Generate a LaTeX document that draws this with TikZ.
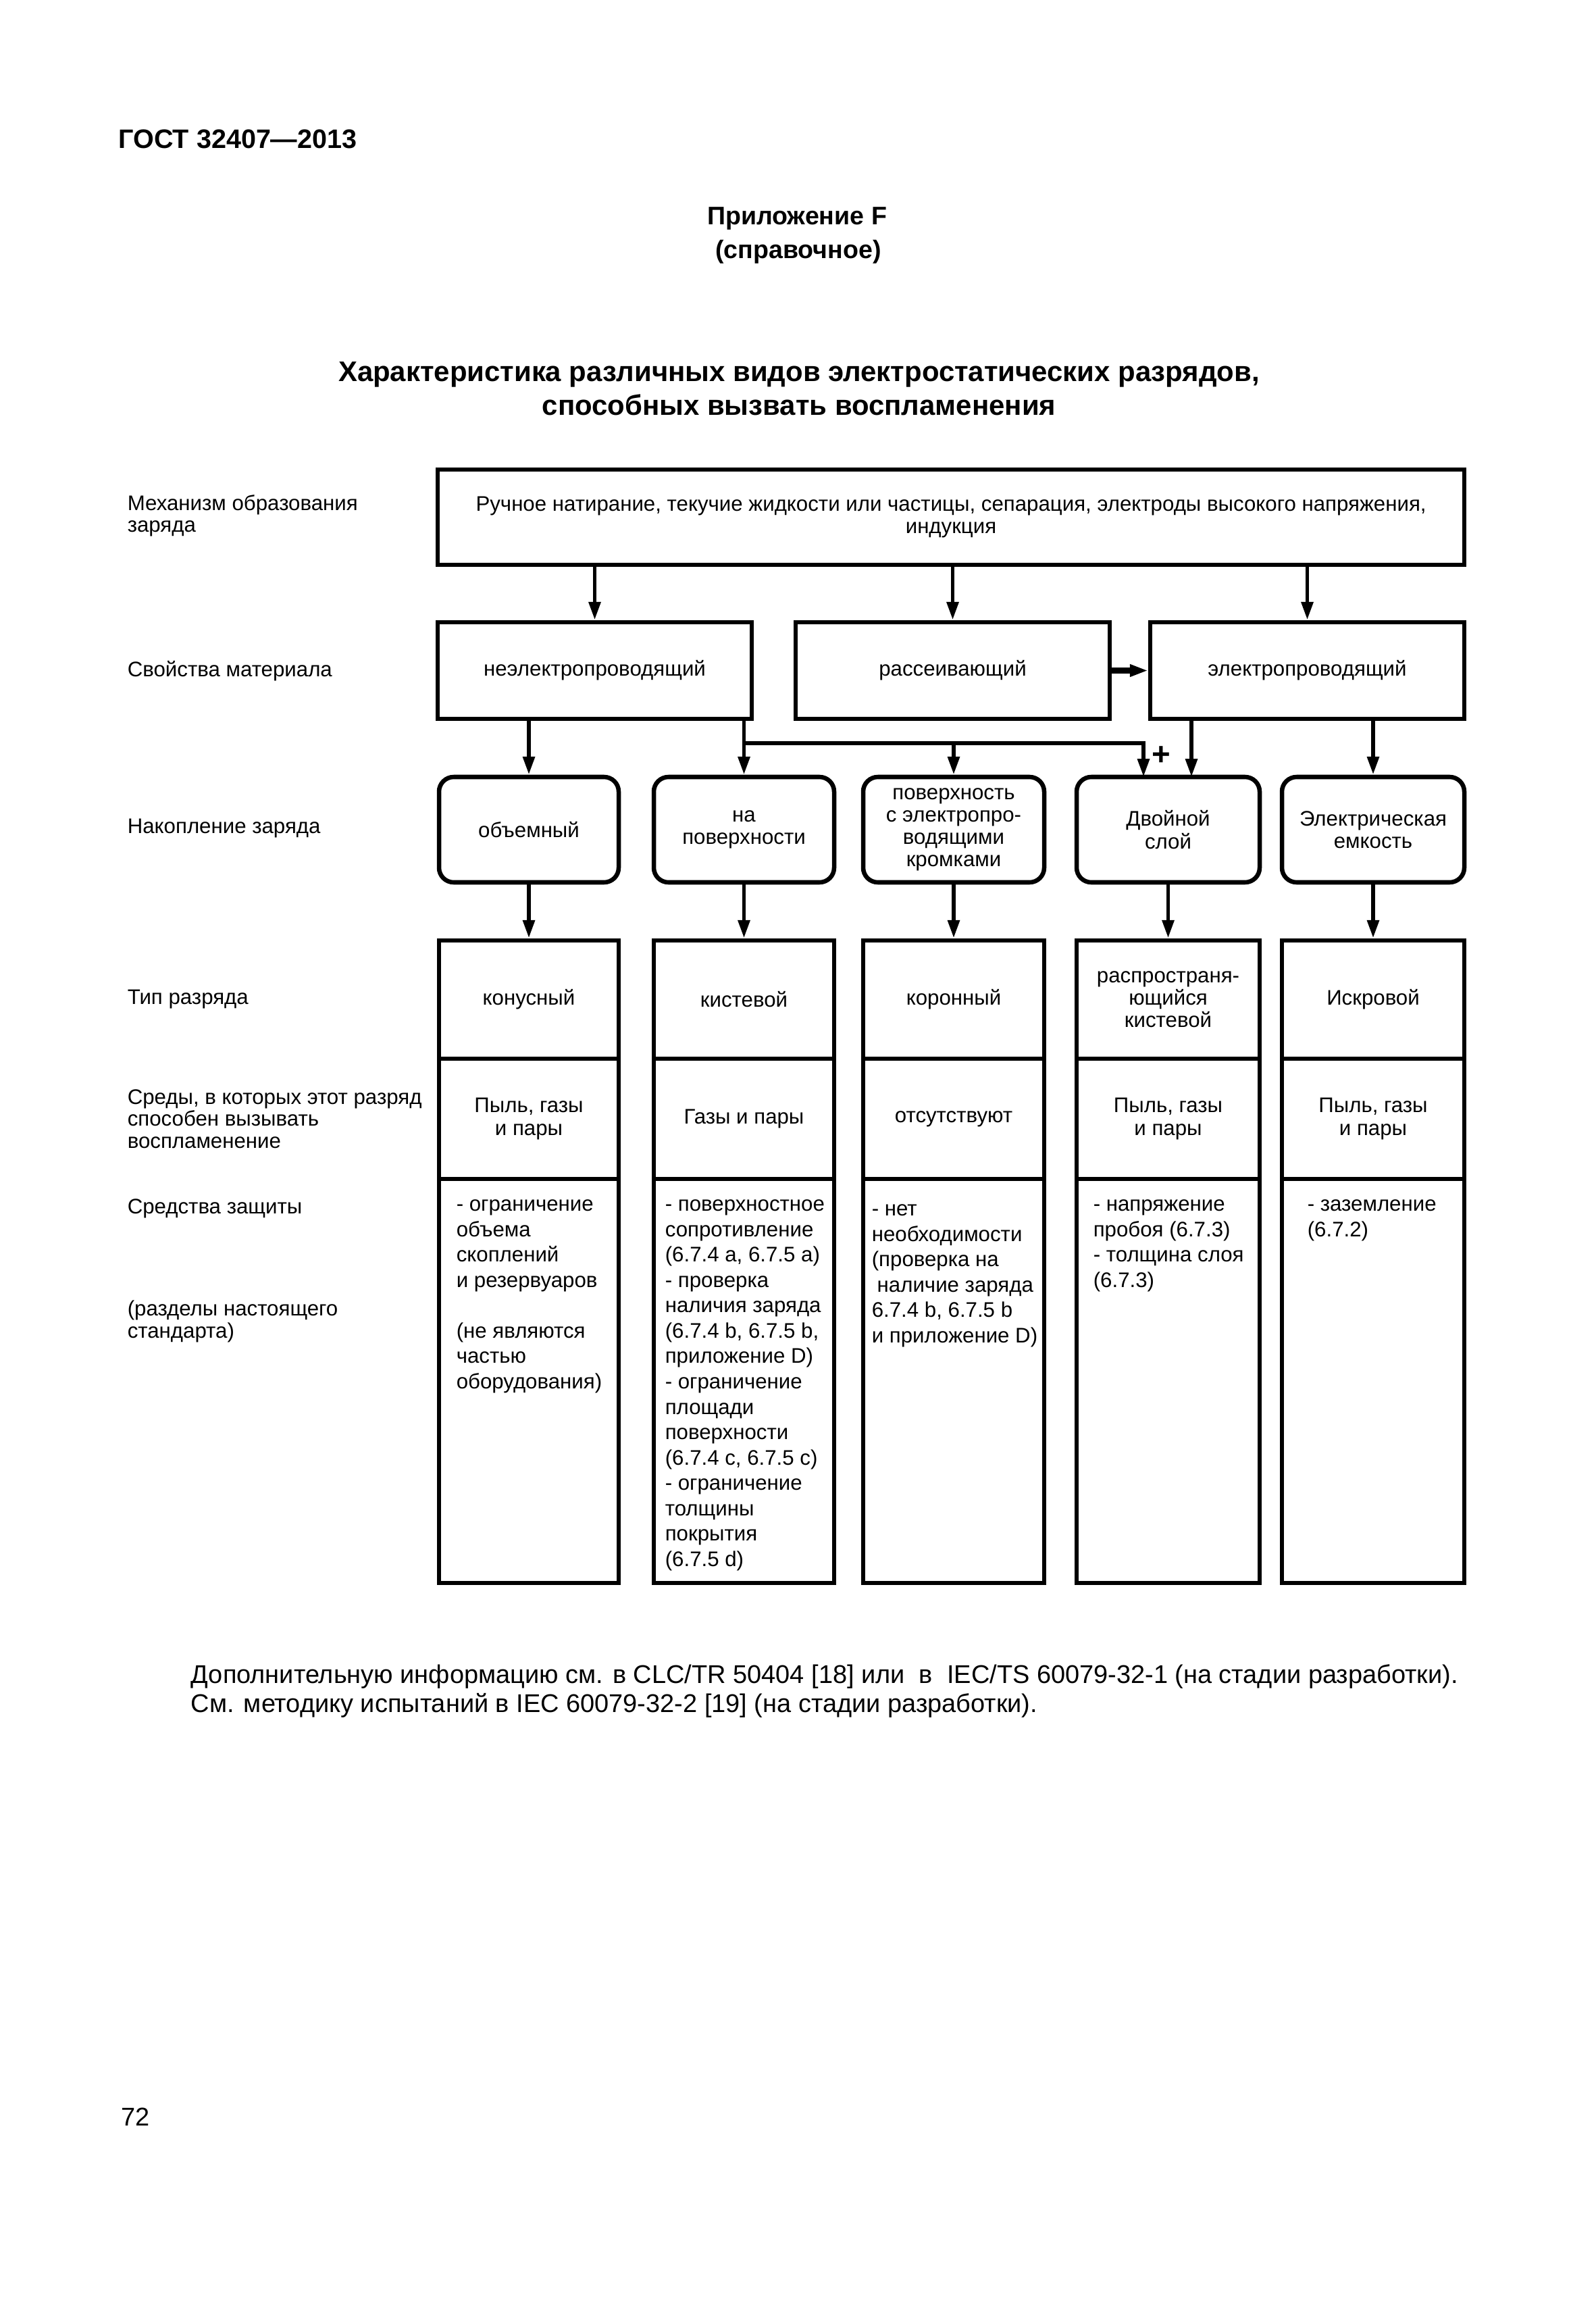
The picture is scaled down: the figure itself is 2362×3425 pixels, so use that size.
\documentclass[tikz,border=0pt]{standalone}
\usepackage{fontspec}
\setmainfont{Liberation Sans}
\usetikzlibrary{arrows.meta,calc}
\begin{document}
\begin{tikzpicture}[x=0.088908mm,y=-0.088908mm,
  sz/.style 2 args={minimum width=#1*0.088908mm, minimum height=#2*0.088908mm},
  box/.style={draw,line width=1.65pt,rectangle,inner sep=0pt,align=center,font=\fontsize{7.9}{8.4}\selectfont},
  rbox/.style={box,rounded corners=5.5pt},
  conn/.style={line width=1.5pt},
  arr/.style={conn,-{Triangle[length=6.8pt,width=4.3pt]}},
  thickarr/.style={line width=2.2pt,-{Triangle[length=6.8pt,width=4.3pt]}},
  lbl/.style={inner sep=0pt,align=left,font=\fontsize{7.9}{8.2}\selectfont},
  prot/.style={inner sep=0pt,align=left,anchor=north west,font=\fontsize{7.9}{9.5}\selectfont},
  hdr/.style={inner sep=0pt,font=\fontsize{10}{12}\selectfont\bfseries},
  apx/.style={inner sep=0pt,font=\fontsize{9.5}{12}\selectfont\bfseries},
  ttl/.style={inner sep=0pt,font=\fontsize{10.6}{12.6}\selectfont\bfseries},
  body/.style={inner sep=0pt,font=\fontsize{9.6}{11.5}\selectfont}
]
\fill[white] (0,0) rectangle (2362,3425);
\useasboundingbox (0,0) rectangle (2362,3425);

% header
\node[hdr,anchor=base west] (gost) at (175,220) {ГОСТ 32407—2013};
\node[apx,anchor=base] (app) at (1180,333) {Приложение F};
\node[apx,anchor=base] (appk) at (1182,383) {(справочное)};
\node[ttl,anchor=base] (title1) at (1183,565) {Характеристика различных видов электростатических разрядов,};
\node[ttl,anchor=base] (title2) at (1183,615) {способных вызвать воспламенения};

% left labels
\node[lbl,anchor=west] (l1) at (188,763) {Механизм образования\\заряда};
\node[lbl,anchor=west] (l2) at (188,993) {Свойства материала};
\node[lbl,anchor=west] (l3) at (188,1226) {Накопление заряда};
\node[lbl,anchor=west] (l4) at (188,1479) {Тип разряда};
\node[lbl,anchor=west] (l5) at (188,1656) {Среды, в которых этот разряд\\способен вызывать\\воспламенение};
\node[lbl,anchor=west] (l6) at (188,1789) {Средства защиты};
\node[lbl,anchor=west] (l7) at (188,1956) {(разделы настоящего\\стандарта)};

% top box
\node[box,sz={1520}{141}] (top) at (1408,765.5) {Ручное натирание, текучие жидкости или частицы, сепарация, электроды высокого напряжения,\\индукция};

% material properties
\node[box,sz={465}{143}] (nc) at (880.5,992.5) {неэлектропроводящий};
\node[box,sz={465}{143}] (ds) at (1410.5,992.5) {рассеивающий};
\node[box,sz={465}{143}] (cd) at (1935.5,992.5) {электропроводящий};

% charge accumulation
\node[rbox,sz={266}{156}] (a1) at (783,1228) {объемный};
\node[rbox,sz={267}{156}] (a2) at (1101.5,1228) {на\\поверхности};
\node[rbox,sz={268}{156}] (a3) at (1412,1228) {поверхность\\с электропро-\\водящими\\кромками};
\node[rbox,sz={271}{156}] (a4) at (1729.5,1228) {Двойной\\слой};
\node[rbox,sz={270}{156}] (a5) at (2033,1228) {Электрическая\\емкость};

% discharge type
\node[box,sz={266}{175}] (t1) at (783,1479.5) {конусный};
\node[box,sz={267}{175}] (t2) at (1101.5,1479.5) {кистевой};
\node[box,sz={268}{175}] (t3) at (1412,1479.5) {коронный};
\node[box,sz={271}{175}] (t4) at (1729.5,1479.5) {распространя-\\ющийся\\кистевой};
\node[box,sz={270}{175}] (t5) at (2033,1479.5) {Искровой};

% environments
\node[box,sz={266}{178}] (e1) at (783,1656) {Пыль, газы\\и пары};
\node[box,sz={267}{178}] (e2) at (1101.5,1656) {Газы и пары};
\node[box,sz={268}{178}] (e3) at (1412,1656) {отсутствуют};
\node[box,sz={271}{178}] (e4) at (1729.5,1656) {Пыль, газы\\и пары};
\node[box,sz={270}{178}] (e5) at (2033,1656) {Пыль, газы\\и пары};

% protection
\node[box,sz={266}{598}] (p1) at (783,2044) {};
\node[box,sz={267}{598}] (p2) at (1101.5,2044) {};
\node[box,sz={268}{598}] (p3) at (1412,2044) {};
\node[box,sz={271}{598}] (p4) at (1729.5,2044) {};
\node[box,sz={270}{598}] (p5) at (2033,2044) {};

\node[prot] (pt1) at (675,1775) {- ограничение\\объема\\скоплений\\и резервуаров\\[9.5pt](не являются\\частью\\оборудования)};
\node[prot] (pt2) at (984,1775) {- поверхностное\\сопротивление\\(6.7.4 а, 6.7.5 а)\\- проверка\\наличия заряда\\(6.7.4 b, 6.7.5 b,\\приложение D)\\- ограничение\\площади\\поверхности\\(6.7.4 с, 6.7.5 с)\\- ограничение\\толщины\\покрытия\\(6.7.5 d)};
\node[prot] (pt3) at (1290,1782) {- нет\\необходимости\\(проверка на\\\hspace*{2pt}наличие заряда\\6.7.4 b, 6.7.5 b\\и приложение D)};
\node[prot] (pt4) at (1618,1775) {- напряжение\\пробоя (6.7.3)\\- толщина слоя\\(6.7.3)};
\node[prot] (pt5) at (1935,1775) {- заземление\\(6.7.2)};

% connectors
\draw[arr] (top.south -| nc.north) -- (nc.north);
\draw[arr] (top.south -| ds.north) -- (ds.north);
\draw[arr] (top.south -| cd.north) -- (cd.north);
\draw[thickarr] (ds.east) -- (cd.west);

\coordinate (jl) at (1101.5,1100);
\coordinate (jr) at (1693,1100);
\coordinate (a4l) at (1693,1150);
\coordinate (a4r) at (1764,1150);
\draw[arr] (nc.south -| a1.north) -- (a1.north);
\draw[arr] (nc.south -| a2.north) -- (a2.north);
\draw[arr] (jl) -- (jr) -- (a4l);
\draw[arr] (a3.north |- jl) -- (a3.north);
\draw[arr] (cd.south -| a4r) -- (a4r);
\draw[arr] (cd.south -| a5.north) -- (a5.north);
\node[inner sep=0pt,font=\fontsize{12}{12}\selectfont\bfseries] (plus) at (1719,1119) {+};

\draw[arr] (a1.south) -- (t1.north);
\draw[arr] (a2.south) -- (t2.north);
\draw[arr] (a3.south) -- (t3.north);
\draw[arr] (a4.south) -- (t4.north);
\draw[arr] (a5.south) -- (t5.north);

% footnote
\node[body,anchor=base west] (fn1) at (282,2491) {Дополнительную информацию см. в CLC/TR 50404 [18] или \ в \ IEC/TS 60079-32-1 (на стадии разработки).};
\node[body,anchor=base west] (fn2) at (282,2534) {См. методику испытаний в IEC 60079-32-2 [19] (на стадии разработки).};

\node[body,anchor=base west] (pg) at (179,3146) {72};
\end{tikzpicture}
\end{document}
